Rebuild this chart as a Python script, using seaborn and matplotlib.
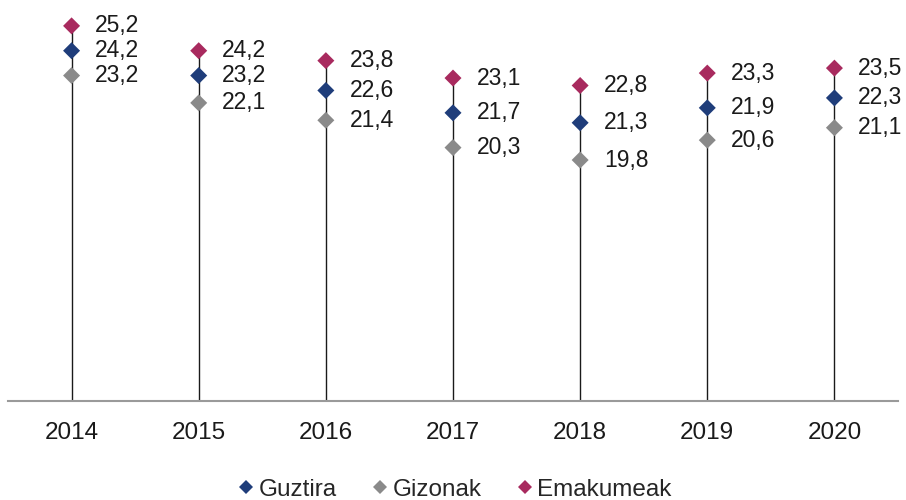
import matplotlib
matplotlib.use("Agg")
import matplotlib.pyplot as plt
import seaborn as sns
import pandas as pd
from matplotlib.lines import Line2D

years = ["2014", "2015", "2016", "2017", "2018", "2019", "2020"]
guztira = [24.2, 23.2, 22.6, 21.7, 21.3, 21.9, 22.3]
gizonak = [23.2, 22.1, 21.4, 20.3, 19.8, 20.6, 21.1]
emakumeak = [25.2, 24.2, 23.8, 23.1, 22.8, 23.3, 23.5]

series = ["Guztira", "Gizonak", "Emakumeak"]
colors = {"Guztira": "#1f3d7a", "Gizonak": "#8a8a8a", "Emakumeak": "#a82a5e"}

df = pd.DataFrame({
    "year": years * 3,
    "value": guztira + gizonak + emakumeak,
    "series": [s for s in series for _ in years],
})

sns.set_theme(style="white")
plt.rcParams["font.family"] = ["Liberation Sans", "DejaVu Sans"]

fig = plt.figure(figsize=(9.06, 5.0), dpi=100)
ymin, ymax = 10.1, 26.0
ax = fig.add_axes([8 / 906, 1 - 401 / 500, 890 / 906, (401 - 6) / 500])

# drop lines from the baseline up to the highest point of each year
tops = [max(a, b, c) for a, b, c in zip(guztira, gizonak, emakumeak)]
ax.vlines(years, ymin, tops, color="#1a1a1a", linewidth=1.0, zorder=1)

# draw back-to-front so the top marker is fully visible
sns.scatterplot(data=df, x="year", y="value", hue="series",
                hue_order=["Gizonak", "Guztira", "Emakumeak"],
                palette=colors, marker="D", s=75, linewidth=0,
                legend=False, ax=ax, zorder=3)

for i, y in enumerate(years):
    for vals in (guztira, gizonak, emakumeak):
        v = vals[i]
        ax.annotate(f"{v:.1f}".replace(".", ","), (i, v), xytext=(17, 0),
                    textcoords="offset points", ha="left", va="center",
                    fontsize=16.5, color="#1a1a1a")

ax.set_xlim(-0.5, 6.5)
ax.set_ylim(ymin, ymax)
ax.set_yticks([])
ax.set_xlabel("")
ax.set_ylabel("")
for side in ("top", "right", "left"):
    ax.spines[side].set_visible(False)
ax.spines["bottom"].set_color("#9a9a9a")
ax.spines["bottom"].set_linewidth(1.5)
ax.tick_params(axis="x", length=0, pad=15, labelsize=17.5, labelcolor="#1a1a1a")

handles = [Line2D([], [], marker="D", linestyle="none", markersize=7,
                  markerfacecolor=colors[s], markeredgewidth=0, label=s)
           for s in series]
fig.legend(handles=handles, loc="lower center", bbox_to_anchor=(0.5, -0.045),
           ncol=3, frameon=False, fontsize=17.5, handletextpad=0.0,
           columnspacing=1.3, handlelength=1.0)

fig.savefig("out.png", dpi=100)
